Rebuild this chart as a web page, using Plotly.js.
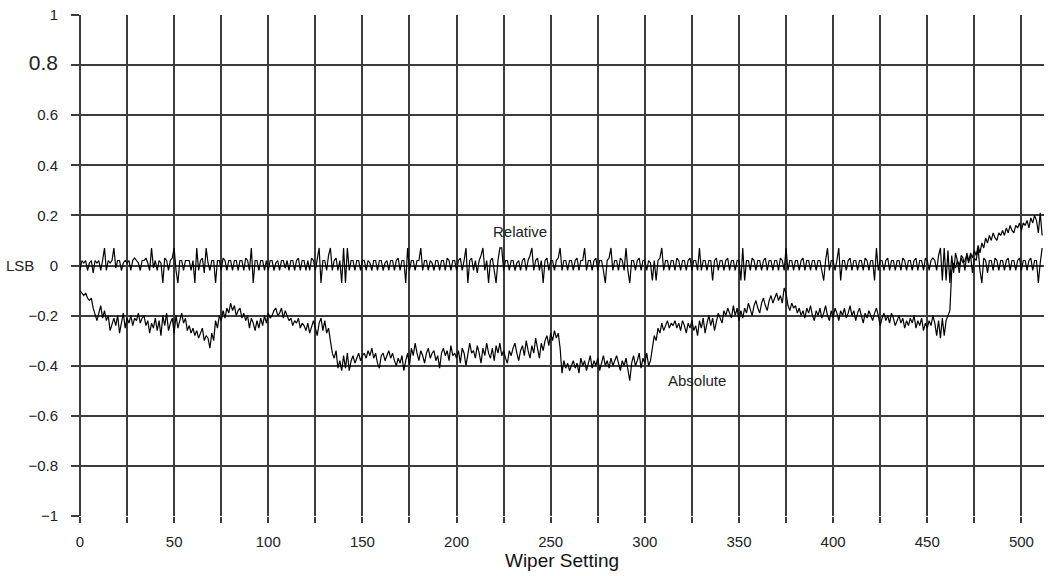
<!DOCTYPE html>
<html>
<head>
<meta charset="utf-8">
<script src="https://cdn.plot.ly/plotly-3.0.1.min.js"></script>
<style>html,body{margin:0;padding:0;background:#fff;}#chart{width:1052px;height:576px;}</style>
</head>
<body>
<div id="chart"></div>
<script>
// Relative (DNL) error, LSB, wiper settings 0..511
const relative = [
-0.02,0.02,0.01,0.02,-0.02,0.01,0.02,-0.03,0.02,0.01,
0.02,-0.02,0.02,0.07,-0.02,0.02,0.01,0.02,0.07,-0.01,
0.02,0.02,-0.02,0.01,0.02,0.01,0.02,-0.02,0.02,0.03,
0.02,0.01,-0.02,0.02,0.02,0.03,0.01,-0.02,0.07,-0.01,
0.02,-0.02,0.02,0.01,-0.07,0.03,0.02,-0.02,0.02,0.03,
0.07,-0.02,-0.07,0.02,0.02,-0.02,0.02,0.02,0.02,-0.02,
0.02,-0.07,0.07,-0.02,0.02,0.03,-0.03,0.07,0.01,-0.02,
0.02,0.02,-0.07,0.02,0.02,-0.02,0.03,0.02,-0.02,0.02,
0.02,-0.02,0.02,0.02,-0.02,0.02,0.02,-0.02,0.03,0.02,
-0.02,0.07,-0.07,0.02,0.02,-0.02,0.02,0.02,-0.02,0.02,
-0.02,0.02,0.02,-0.02,0.01,0.02,-0.02,0.02,0.02,-0.01,
0.02,-0.02,0.02,0.02,-0.02,0.02,0.03,-0.02,0.02,0.02,
-0.02,0.02,-0.02,0.03,0.02,-0.02,0.02,0.07,-0.07,0.02,
0.02,-0.02,0.04,0.07,-0.02,0.02,0.03,-0.02,0.02,-0.07,
0.07,-0.07,0.07,-0.02,0.02,0.02,-0.02,0.02,0.02,-0.02,
0.02,0.02,-0.02,0.02,0.01,-0.02,0.02,0.02,-0.02,0.02,
0.02,-0.02,0.01,0.02,-0.02,0.02,0.02,-0.02,0.02,0.03,
-0.02,0.02,0.02,-0.07,0.07,-0.02,0.02,0.02,-0.02,0.02,
0.02,0.07,-0.02,0.02,0.02,-0.02,0.02,0.01,-0.02,0.02,
0.02,-0.02,0.02,0.02,-0.02,0.03,0.02,-0.02,0.02,0.02,
-0.02,0.02,0.03,-0.02,0.02,0.07,-0.07,0.02,0.03,-0.02,
0.02,-0.03,0.02,0.04,0.07,-0.02,0.02,-0.07,0.02,0.03,
-0.02,-0.07,0.02,0.07,0.07,-0.02,0.02,0.02,-0.02,0.02,
0.02,-0.02,0.01,0.02,-0.02,0.02,0.03,-0.02,0.02,0.04,
0.07,-0.02,0.02,0.03,-0.02,0.02,-0.07,0.02,0.03,-0.02,
0.02,0.02,-0.02,0.02,0.03,0.07,-0.02,0.02,0.02,-0.02,
0.02,0.02,-0.02,0.02,0.03,-0.02,0.02,0.02,0.07,-0.02,
0.02,0.02,-0.02,0.02,0.03,-0.02,0.02,0.02,-0.02,-0.07,
0.02,0.03,0.07,-0.02,0.02,0.02,-0.02,0.03,0.02,-0.02,
0.07,-0.02,-0.07,0.02,0.02,-0.02,0.02,0.03,-0.02,0.02,
0.02,-0.02,0.02,0.01,-0.06,0.02,-0.06,0.02,0.03,0.07,
-0.02,0.02,0.02,-0.02,0.02,0.02,-0.02,0.03,0.02,-0.02,
0.02,0.02,-0.02,0.02,0.03,-0.02,0.02,0.02,-0.02,0.07,
-0.02,0.02,0.02,-0.02,0.02,0.02,-0.06,0.02,0.03,-0.02,
0.02,0.02,-0.02,0.02,0.03,-0.02,0.02,0.02,-0.02,0.02,
0.02,-0.06,0.07,-0.06,0.02,0.02,-0.02,0.03,0.02,-0.02,
0.02,0.02,-0.02,0.02,0.03,-0.02,0.02,0.02,-0.02,0.02,
0.02,-0.02,0.03,0.02,-0.02,0.07,-0.02,0.02,0.02,-0.02,
0.02,0.02,-0.02,0.02,0.03,-0.02,0.02,0.02,-0.02,0.02,
0.02,-0.02,0.02,0.02,-0.02,-0.06,0.02,0.07,-0.02,0.02,
0.02,-0.02,0.02,0.07,-0.06,0.02,0.02,-0.02,0.02,0.03,
-0.02,0.02,0.02,-0.02,0.02,0.02,-0.02,0.03,0.02,-0.02,
0.02,0.02,-0.06,0.07,-0.02,0.02,0.02,-0.02,0.02,0.03,
-0.02,0.02,0.02,-0.02,0.02,0.02,-0.02,0.03,0.02,-0.02,
0.02,0.02,-0.02,0.02,0.03,-0.02,0.02,0.02,-0.02,0.03,
0.02,-0.02,0.02,0.03,0.02,-0.02,0.04,0.07,-0.06,0.07,
-0.06,0.06,-0.07,0.04,-0.03,0.05,0.02,-0.03,0.04,0.03,
-0.02,0.05,0.02,0.04,-0.03,0.03,0.02,0.07,-0.02,-0.07,
0.03,0.02,-0.03,0.02,0.02,-0.02,0.03,0.02,-0.02,0.02,
0.02,-0.02,0.02,0.03,-0.02,0.02,0.02,-0.02,0.02,0.03,
-0.02,0.02,0.02,-0.02,0.02,0.03,-0.02,0.02,0.02,-0.07,
0.01,0.07
];

// Absolute (INL) error, LSB, wiper settings 0..511
const absolute = [
-0.10,-0.11,-0.12,-0.11,-0.13,-0.14,-0.13,-0.17,-0.20,-0.22,
-0.19,-0.16,-0.21,-0.18,-0.22,-0.20,-0.26,-0.23,-0.21,-0.24,
-0.20,-0.27,-0.22,-0.19,-0.25,-0.21,-0.23,-0.20,-0.24,-0.21,
-0.22,-0.19,-0.23,-0.21,-0.20,-0.24,-0.22,-0.27,-0.23,-0.25,
-0.21,-0.26,-0.22,-0.28,-0.20,-0.24,-0.19,-0.26,-0.23,-0.21,
-0.27,-0.20,-0.25,-0.22,-0.19,-0.23,-0.21,-0.26,-0.24,-0.27,
-0.25,-0.28,-0.26,-0.29,-0.27,-0.25,-0.30,-0.28,-0.29,-0.33,
-0.27,-0.30,-0.22,-0.25,-0.20,-0.22,-0.18,-0.21,-0.17,-0.19,
-0.15,-0.18,-0.16,-0.20,-0.18,-0.17,-0.21,-0.19,-0.22,-0.20,
-0.25,-0.21,-0.23,-0.26,-0.22,-0.25,-0.21,-0.24,-0.20,-0.23,
-0.19,-0.21,-0.20,-0.18,-0.17,-0.20,-0.19,-0.17,-0.21,-0.18,
-0.20,-0.22,-0.21,-0.24,-0.22,-0.23,-0.21,-0.25,-0.23,-0.24,
-0.26,-0.23,-0.27,-0.24,-0.22,-0.25,-0.28,-0.23,-0.21,-0.26,
-0.22,-0.27,-0.25,-0.30,-0.35,-0.37,-0.34,-0.41,-0.38,-0.42,
-0.36,-0.41,-0.35,-0.42,-0.38,-0.36,-0.39,-0.37,-0.35,-0.38,
-0.36,-0.35,-0.37,-0.34,-0.36,-0.33,-0.37,-0.35,-0.39,-0.41,
-0.36,-0.35,-0.38,-0.36,-0.34,-0.37,-0.35,-0.38,-0.40,-0.37,
-0.39,-0.36,-0.42,-0.38,-0.35,-0.40,-0.33,-0.36,-0.31,-0.35,
-0.38,-0.34,-0.36,-0.39,-0.35,-0.33,-0.37,-0.35,-0.34,-0.38,
-0.36,-0.41,-0.35,-0.33,-0.36,-0.34,-0.38,-0.32,-0.36,-0.35,
-0.37,-0.34,-0.39,-0.33,-0.35,-0.40,-0.36,-0.31,-0.35,-0.34,
-0.37,-0.32,-0.35,-0.39,-0.33,-0.36,-0.31,-0.35,-0.37,-0.33,
-0.38,-0.32,-0.35,-0.31,-0.36,-0.34,-0.37,-0.39,-0.34,-0.36,
-0.33,-0.31,-0.35,-0.38,-0.34,-0.32,-0.36,-0.30,-0.34,-0.37,
-0.32,-0.35,-0.29,-0.33,-0.37,-0.31,-0.34,-0.30,-0.28,-0.32,
-0.27,-0.30,-0.26,-0.29,-0.27,-0.33,-0.43,-0.38,-0.41,-0.39,
-0.42,-0.40,-0.38,-0.41,-0.39,-0.43,-0.37,-0.40,-0.38,-0.42,
-0.39,-0.36,-0.41,-0.38,-0.40,-0.37,-0.42,-0.39,-0.36,-0.40,
-0.38,-0.41,-0.37,-0.40,-0.38,-0.36,-0.39,-0.42,-0.38,-0.40,
-0.37,-0.41,-0.46,-0.39,-0.36,-0.40,-0.38,-0.35,-0.41,-0.37,
-0.39,-0.35,-0.40,-0.38,-0.33,-0.28,-0.30,-0.25,-0.27,-0.23,
-0.26,-0.24,-0.22,-0.25,-0.23,-0.24,-0.22,-0.25,-0.23,-0.26,
-0.22,-0.24,-0.27,-0.23,-0.25,-0.22,-0.26,-0.24,-0.28,-0.22,
-0.25,-0.21,-0.27,-0.23,-0.20,-0.24,-0.21,-0.26,-0.22,-0.19,
-0.21,-0.23,-0.18,-0.20,-0.17,-0.19,-0.21,-0.16,-0.20,-0.17,
-0.22,-0.18,-0.21,-0.17,-0.19,-0.15,-0.18,-0.20,-0.16,-0.14,
-0.17,-0.19,-0.15,-0.13,-0.16,-0.18,-0.14,-0.12,-0.15,-0.13,
-0.11,-0.14,-0.12,-0.15,-0.09,-0.11,-0.16,-0.18,-0.15,-0.17,
-0.16,-0.19,-0.17,-0.20,-0.18,-0.21,-0.17,-0.19,-0.16,-0.20,
-0.22,-0.18,-0.20,-0.17,-0.21,-0.19,-0.16,-0.20,-0.22,-0.18,
-0.21,-0.17,-0.19,-0.22,-0.18,-0.20,-0.17,-0.21,-0.19,-0.16,
-0.20,-0.18,-0.22,-0.19,-0.17,-0.20,-0.23,-0.19,-0.21,-0.18,
-0.20,-0.22,-0.19,-0.17,-0.20,-0.24,-0.21,-0.19,-0.22,-0.20,
-0.23,-0.19,-0.21,-0.24,-0.22,-0.20,-0.23,-0.21,-0.25,-0.22,
-0.24,-0.21,-0.23,-0.20,-0.25,-0.22,-0.24,-0.21,-0.26,-0.23,
-0.25,-0.22,-0.24,-0.20,-0.23,-0.28,-0.22,-0.29,-0.21,-0.28,
-0.22,-0.20,-0.18,-0.02,0.01,-0.01,0.02,0.00,0.03,0.01,
0.02,0.04,0.01,0.05,0.03,0.06,0.04,0.08,0.05,0.09,
0.07,0.11,0.09,0.12,0.10,0.13,0.11,0.10,0.13,0.12,
0.14,0.12,0.15,0.13,0.16,0.14,0.13,0.16,0.15,0.17,
0.14,0.17,0.16,0.18,0.15,0.19,0.17,0.20,0.18,0.13,
0.21,0.12
];

const yTickVals = [1, 0.8, 0.6, 0.4, 0.2, 0, -0.2, -0.4, -0.6, -0.8, -1];
const yTickText = ['1', '<span style="font-size:21px">0.8</span>', '0.6', '0.4', '0.2', '0',
  '\u22120.2', '\u22120.4', '\u22120.6', '\u22120.8', '\u22121'];
const xTickVals = [0, 50, 100, 150, 200, 250, 300, 350, 400, 450, 500];

const wiper = relative.map((_, i) => i);

const lineStyle = {color: '#000', width: 1.2};
const data = [
  {x: wiper, y: relative, type: 'scatter', mode: 'lines', name: 'Relative', line: lineStyle, hoverinfo: 'x+y'},
  {x: wiper, y: absolute, type: 'scatter', mode: 'lines', name: 'Absolute', line: lineStyle, hoverinfo: 'x+y'}
];

const gridC = '#3c3c3c';
const gw = 2;
const layout = {
  width: 1052, height: 576,
  margin: {l: 80, r: 8, t: 15, b: 60},
  paper_bgcolor: '#fff', plot_bgcolor: '#fff',
  showlegend: false,
  font: {family: 'Liberation Sans, Arial, sans-serif', size: 15, color: '#222'},
  xaxis: {
    range: [0, 512], tickvals: xTickVals, ticks: 'outside', ticklen: 6, tickcolor: gridC, tickwidth: gw,
    showgrid: true, gridcolor: gridC, gridwidth: gw, zeroline: true, zerolinecolor: gridC, zerolinewidth: gw,
    showline: false, ticklabelstandoff: 6,
    minor: {dtick: 25, tick0: 0, showgrid: true, gridcolor: gridC, gridwidth: gw, ticks: 'outside', ticklen: 6, tickcolor: gridC, tickwidth: gw},
    title: {text: 'Wiper Setting', font: {size: 19, color: '#111'}, standoff: 2}
  },
  yaxis: {
    range: [-1, 1], tickvals: yTickVals, ticktext: yTickText, ticks: 'outside', ticklen: 8, tickcolor: gridC, tickwidth: gw,
    showgrid: true, gridcolor: gridC, gridwidth: gw, zeroline: true, zerolinecolor: gridC, zerolinewidth: gw,
    showline: false, ticklabelstandoff: 10
  },
  annotations: [
    {text: 'LSB', xref: 'paper', yref: 'y', x: -0.062, y: 0, xanchor: 'center', yanchor: 'middle', showarrow: false, font: {size: 15, color: '#222'}},
    {text: 'Relative', xref: 'x', yref: 'y', x: 233.5, y: 0.135, xanchor: 'center', yanchor: 'middle', showarrow: false, font: {size: 15, color: '#222'}},
    {text: 'Absolute', xref: 'x', yref: 'y', x: 327.5, y: -0.461, xanchor: 'center', yanchor: 'middle', showarrow: false, font: {size: 15, color: '#222'}}
  ]
};

Plotly.newPlot('chart', data, layout, {displayModeBar: false, staticPlot: true});
</script>
</body>
</html>
